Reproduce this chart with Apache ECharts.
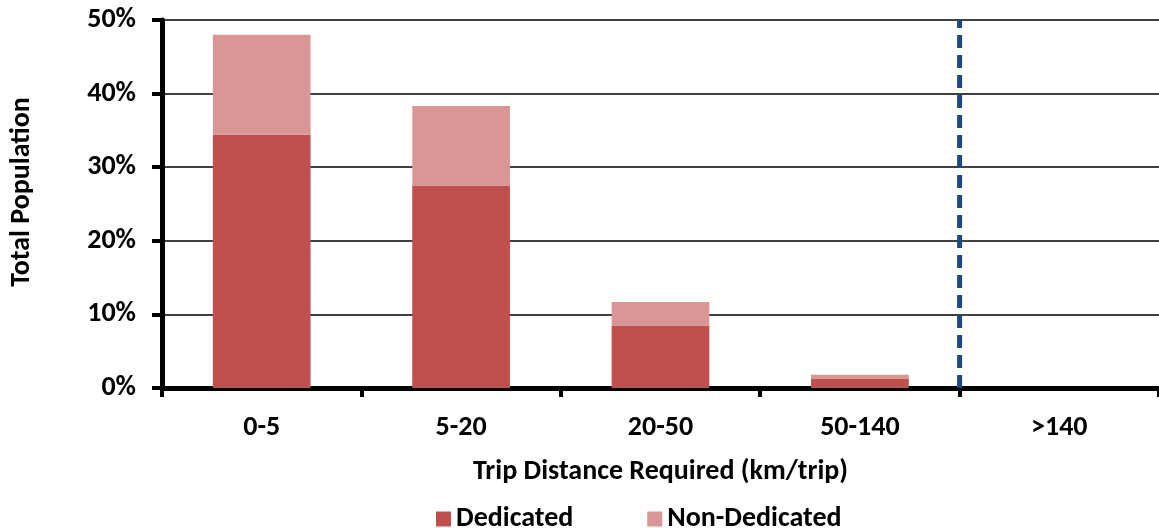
<!DOCTYPE html>
<html>
<head>
<meta charset="utf-8">
<script src="https://cdn.jsdelivr.net/npm/echarts@6/dist/echarts.min.js"></script>
<style>
html,body{margin:0;padding:0;background:#fff;}
#chart{width:1159px;height:528px;}
</style>
</head>
<body>
<div id="chart"></div>
<script>
const categories = ['0-5', '5-20', '20-50', '50-140', '>140'];
const dedicated = [34.4, 27.5, 8.5, 1.3, 0];
const nonDedicated = [13.6, 10.8, 3.2, 0.5, 0];
const yTicks = [0, 10, 20, 30, 40, 50];
const dividerAfterCategory = '50-140';

const FONT = "'Carlito', 'Liberation Sans Narrow', 'Liberation Sans', sans-serif";
const FS = 28;
const dividerX = categories.indexOf(dividerAfterCategory) + 1;

const chart = echarts.init(document.getElementById('chart'));
chart.setOption({
  animation: false,
  backgroundColor: '#ffffff',
  textStyle: { fontFamily: FONT },
  grid: { left: 158, top: 20, width: 1005, height: 368, containLabel: false },
  legend: {
    data: ['Dedicated', 'Non-Dedicated'],
    left: 431, top: 500,
    itemWidth: 15, itemHeight: 15, itemGap: 74,
    icon: 'rect',
    textStyle: { fontFamily: FONT, fontSize: FS, fontWeight: 'bold', color: '#000' }
  },
  xAxis: [{
    type: 'category',
    data: categories,
    boundaryGap: true,
    axisLine: { lineStyle: { color: '#000', width: 5 } },
    axisTick: { show: true, interval: 0, length: 9, lineStyle: { color: '#000', width: 4 } },
    axisLabel: { margin: 26, fontFamily: FONT, fontSize: FS, fontWeight: 'bold', color: '#000', interval: 0 },
    name: 'Trip Distance Required (km/trip)',
    nameLocation: 'middle',
    nameGap: 70,
    nameTextStyle: { fontFamily: FONT, fontSize: FS, fontWeight: 'bold', color: '#000' }
  }, {
    type: 'value', min: 0, max: categories.length, show: false
  }],
  yAxis: {
    type: 'value',
    min: yTicks[0], max: yTicks[yTicks.length - 1], interval: yTicks[1] - yTicks[0],
    axisLine: { show: true, lineStyle: { color: '#000', width: 5 } },
    axisTick: { show: true, length: 10, lineStyle: { color: '#000', width: 4 } },
    splitLine: { show: true, lineStyle: { color: '#000', width: 1.5 } },
    axisLabel: { margin: 26, formatter: '{value}%', fontFamily: FONT, fontSize: FS, fontWeight: 'bold', color: '#000' },
    name: 'Total Population',
    nameLocation: 'middle',
    nameGap: 126,
    nameRotate: 90,
    nameTextStyle: { fontFamily: FONT, fontSize: FS, fontWeight: 'bold', color: '#000', padding: [0, 0, 0, 24] }
  },
  series: [{
    name: 'Dedicated', type: 'bar', stack: 'total', data: dedicated,
    barWidth: '49%',
    itemStyle: { color: '#C0504D' }
  }, {
    name: 'Non-Dedicated', type: 'bar', stack: 'total', data: nonDedicated,
    barWidth: '49%',
    itemStyle: { color: '#D99694' }
  }, {
    name: 'divider', type: 'line', xAxisIndex: 1, yAxisIndex: 0,
    data: [[dividerX, yTicks[0]], [dividerX, yTicks[yTicks.length - 1]]],
    symbol: 'none', silent: true,
    lineStyle: { color: '#1F497D', width: 5, type: [13, 7] }
  }]
});
</script>
</body>
</html>
